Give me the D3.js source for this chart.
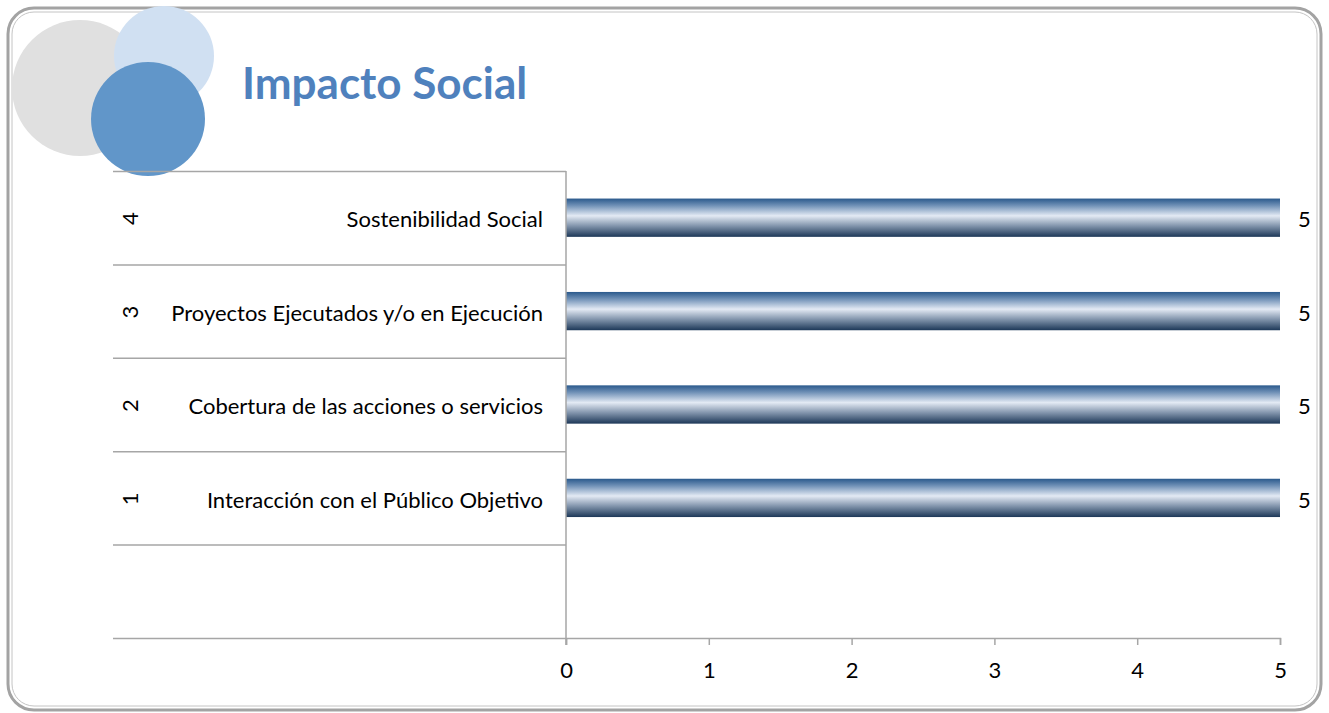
<!DOCTYPE html>
<html>
<head>
<meta charset="utf-8">
<script src="https://cdn.jsdelivr.net/npm/d3@7"></script>
<style>
  body { margin: 0; background: #fff; }
  svg { display: block; font-family: Lato, "Open Sans", sans-serif; }
</style>
</head>
<body>
<svg id="chart" width="1329" height="713"></svg>
<script>
// data
var indices = ["1", "2", "3", "4"];
var categories = [
    "Interacción con el Público Objetivo",
    "Cobertura de las acciones o servicios",
    "Proyectos Ejecutados y/o en Ejecución",
    "Sostenibilidad Social"
];
var values = [5, 5, 5, 5];
var xTicks = [0, 1, 2, 3, 4, 5];
var title = "Impacto Social";

var rows = indices.map(function(d, i) {
    return { idx: d, label: categories[i], value: values[i] };
});

var svg = d3.select("#chart");
var gridColor = "#a6a6a6";
var fontSize = 22;

// frame
svg.append("rect")
    .attr("x", 8).attr("y", 8).attr("width", 1313).attr("height", 702)
    .attr("rx", 26).attr("ry", 26)
    .attr("fill", "none").attr("stroke", "#a3a3a3").attr("stroke-width", 3);
svg.append("rect")
    .attr("x", 12).attr("y", 12).attr("width", 1305).attr("height", 694)
    .attr("rx", 22).attr("ry", 22)
    .attr("fill", "none").attr("stroke", "#c4c4c4").attr("stroke-width", 1);

// decorative circles
svg.append("circle").attr("cx", 80).attr("cy", 88).attr("r", 68).attr("fill", "#e0e0e0");
svg.append("circle").attr("cx", 164).attr("cy", 56).attr("r", 50).attr("fill", "#d0e0f2");
svg.append("circle").attr("cx", 148).attr("cy", 119).attr("r", 57).attr("fill", "#6196c9");

svg.append("text")
    .attr("x", 242).attr("y", 99)
    .attr("font-size", 44).attr("font-weight", "bold")
    .attr("fill", "#4f81bd")
    .text(title);

// scales
var plotLeft = 113, axisX = 566, plotRight = 1280, plotTop = 171, plotBottom = 638;
var x = d3.scaleLinear().domain([0, 5]).range([axisX, plotRight]);
var y = d3.scaleBand()
    .domain(["4", "3", "2", "1", ""])
    .range([plotTop, plotBottom])
    .paddingInner(0).paddingOuter(0);
var barH = y.bandwidth() * 0.41;

// gradient for bars
var defs = svg.append("defs");
var grad = defs.append("linearGradient")
    .attr("id", "barGrad").attr("x1", 0).attr("y1", 0).attr("x2", 0).attr("y2", 1);
[[0, "#2a598c"], [0.18, "#6f90b6"], [0.45, "#e3eaf4"], [0.7, "#8799b0"], [1, "#1d3858"]]
    .forEach(function(s) {
        grad.append("stop").attr("offset", s[0]).attr("stop-color", s[1]);
    });

// category separators
var seps = y.domain().map(function(d) { return y(d); }).concat([plotBottom]);
svg.append("g").selectAll("line")
    .data(seps)
    .join("line")
    .attr("x1", plotLeft).attr("x2", axisX)
    .attr("y1", function(d) { return d + 0.5; })
    .attr("y2", function(d) { return d + 0.5; })
    .attr("stroke", gridColor).attr("stroke-width", 1.5);

// bars
svg.append("g").selectAll("rect")
    .data(rows)
    .join("rect")
    .attr("x", x(0))
    .attr("y", function(d) { return y(d.idx) + (y.bandwidth() - barH) / 2; })
    .attr("width", function(d) { return x(d.value) - x(0); })
    .attr("height", barH)
    .attr("fill", "url(#barGrad)");

// value labels
svg.append("g").selectAll("text")
    .data(rows)
    .join("text")
    .attr("x", function(d) { return x(d.value) + 18; })
    .attr("y", function(d) { return y(d.idx) + y.bandwidth() / 2 + 2; })
    .attr("dy", "0.35em")
    .attr("font-size", fontSize)
    .attr("fill", "#000")
    .text(function(d) { return d.value; });

// category labels
svg.append("g").selectAll("text")
    .data(rows)
    .join("text")
    .attr("x", axisX - 23)
    .attr("y", function(d) { return y(d.idx) + y.bandwidth() / 2 + 2; })
    .attr("dy", "0.35em")
    .attr("text-anchor", "end")
    .attr("font-size", fontSize)
    .text(function(d) { return d.label; });

svg.append("g").selectAll("text")
    .data(rows)
    .join("text")
    .attr("transform", function(d) {
        return "translate(130," + (y(d.idx) + y.bandwidth() / 2 + 1) + ") rotate(-90)";
    })
    .attr("dy", "0.35em")
    .attr("text-anchor", "middle")
    .attr("font-size", fontSize)
    .text(function(d) { return d.idx; });

// value axis
var xAxis = svg.append("g")
    .attr("transform", "translate(0," + plotBottom + ")")
    .call(d3.axisBottom(x).tickValues(xTicks).tickSize(7).tickPadding(17).tickFormat(d3.format("d")));
xAxis.select(".domain").attr("stroke", gridColor).attr("stroke-width", 1.5);
xAxis.selectAll(".tick line").attr("stroke", gridColor).attr("stroke-width", 1.5);
xAxis.selectAll(".tick text")
    .attr("font-size", fontSize).attr("font-family", "Lato, 'Open Sans', sans-serif").attr("fill", "#000");

// category axis line
svg.append("line")
    .attr("x1", axisX).attr("x2", axisX)
    .attr("y1", plotTop).attr("y2", plotBottom + 7)
    .attr("stroke", gridColor).attr("stroke-width", 1.5);
</script>
</body>
</html>
